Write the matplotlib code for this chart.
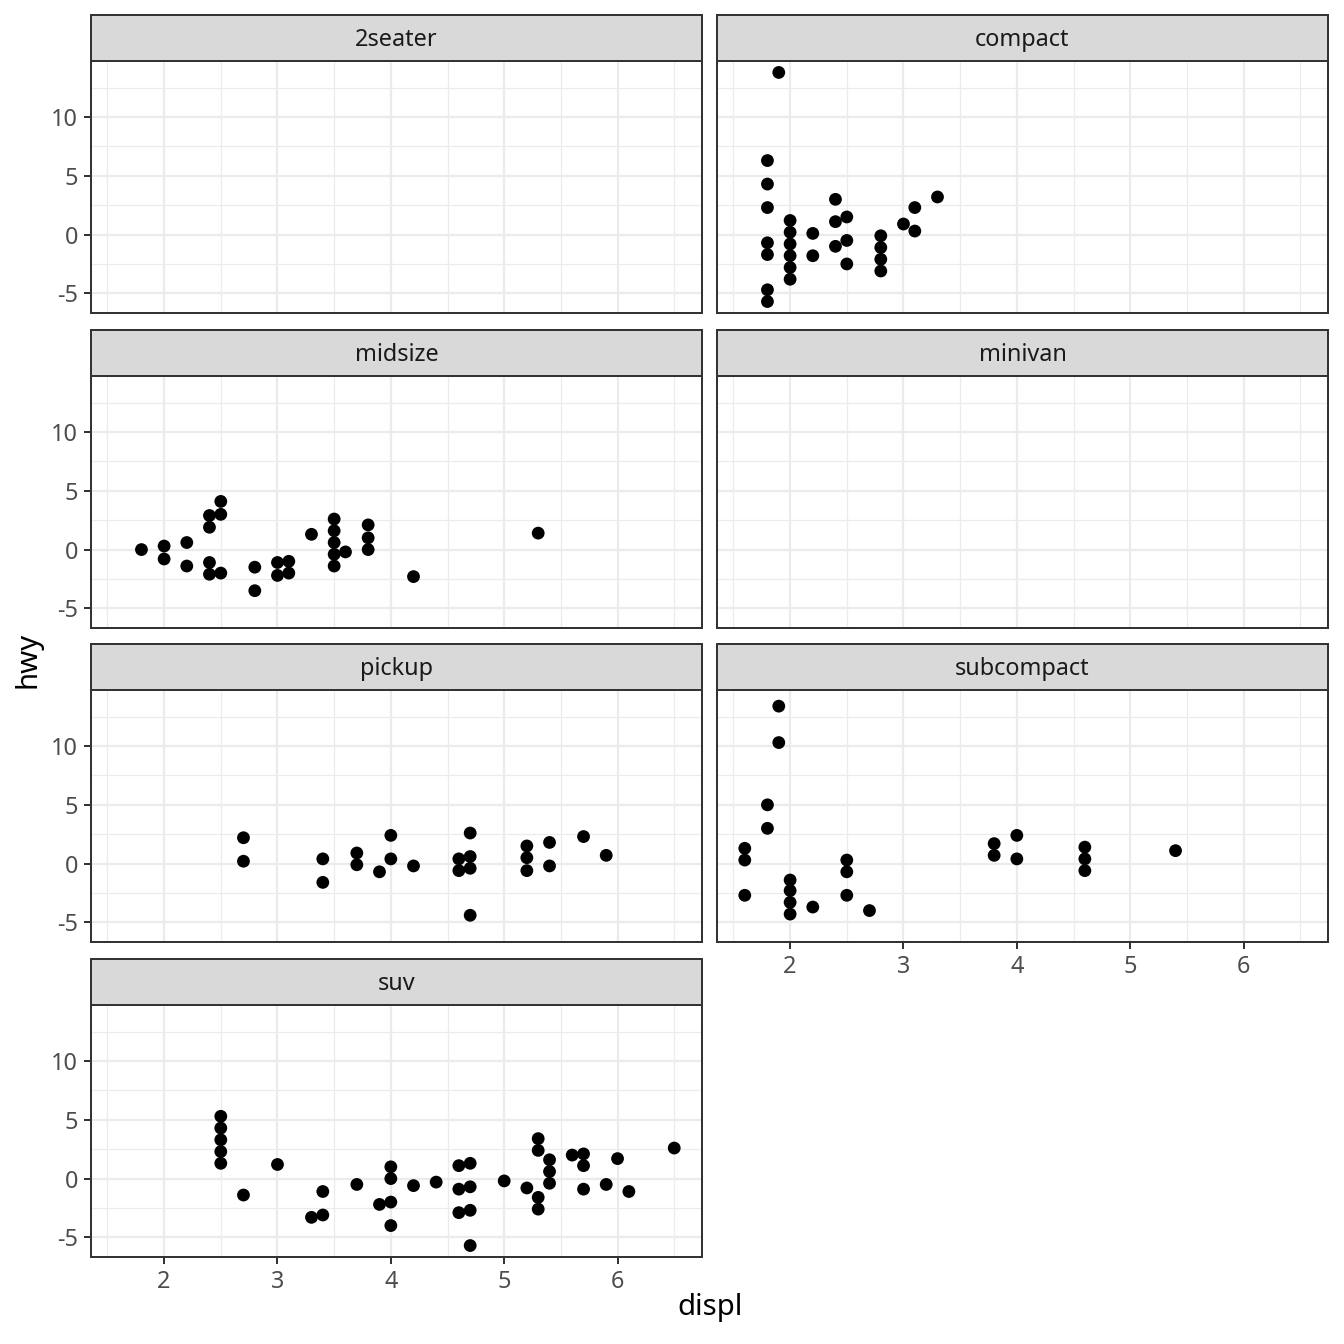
import numpy as np
import matplotlib
matplotlib.use("Agg")
import matplotlib.pyplot as plt

plt.rcParams['font.family'] = ['Noto Sans', 'DejaVu Sans']
plt.rcParams['axes.unicode_minus'] = False

# facet order (facet_wrap, 2 columns)
classes = ["2seater", "compact", "midsize", "minivan", "pickup", "subcompact", "suv"]

compact_displ = [1.9, 1.8, 1.8, 1.8, 1.8, 1.8, 1.8, 1.8, 2.0, 2.0, 2.0, 2.0, 2.0, 2.0,
                 2.2, 2.2, 2.4, 2.4, 2.4, 2.5, 2.5, 2.5, 2.8, 2.8, 2.8, 2.8, 3.0, 3.1, 3.1, 3.3]
compact_hwy = [13.8, 6.3, 4.3, 2.3, -0.7, -1.7, -4.7, -5.7, 1.2, 0.2, -0.8, -1.8, -2.8, -3.8,
               0.1, -1.8, 3.0, 1.1, -1.0, 1.5, -0.5, -2.5, -0.1, -1.1, -2.1, -3.1, 0.9, 2.3, 0.3, 3.2]

midsize_displ = [1.8, 2.0, 2.0, 2.2, 2.2, 2.4, 2.4, 2.4, 2.4, 2.5, 2.5, 2.5, 2.8, 2.8,
                 3.0, 3.0, 3.1, 3.1, 3.3, 3.5, 3.5, 3.5, 3.5, 3.5, 3.6, 3.8, 3.8, 3.8, 4.2, 5.3]
midsize_hwy = [0.0, 0.3, -0.8, 0.6, -1.4, 2.9, 1.9, -1.1, -2.1, 4.1, 3.0, -2.0, -1.5, -3.5,
               -1.1, -2.2, -1.0, -2.0, 1.3, 2.6, 1.6, 0.6, -0.4, -1.4, -0.2, 2.1, 1.0, 0.0, -2.3, 1.4]

pickup_displ = [2.7, 2.7, 3.4, 3.4, 3.7, 3.7, 3.9, 4.0, 4.0, 4.2, 4.6, 4.6, 4.7, 4.7, 4.7, 4.7,
                5.2, 5.2, 5.2, 5.4, 5.4, 5.7, 5.9]
pickup_hwy = [2.2, 0.2, 0.4, -1.6, 0.9, -0.1, -0.7, 2.4, 0.4, -0.2, 0.4, -0.6, 2.6, 0.6, -0.4, -4.4,
              1.5, 0.5, -0.6, 1.8, -0.2, 2.3, 0.7]

subcompact_displ = [1.6, 1.6, 1.6, 1.8, 1.8, 1.9, 1.9, 2.0, 2.0, 2.0, 2.0, 2.2, 2.5, 2.5, 2.5,
                    2.7, 3.8, 3.8, 4.0, 4.0, 4.6, 4.6, 4.6, 5.4]
subcompact_hwy = [1.3, 0.3, -2.7, 5.0, 3.0, 13.4, 10.3, -1.4, -2.3, -3.3, -4.3, -3.7, 0.3, -0.7, -2.7,
                  -4.0, 1.7, 0.7, 2.4, 0.4, 1.4, 0.4, -0.6, 1.1]

suv_displ = [2.5, 2.5, 2.5, 2.5, 2.5, 2.7, 3.0, 3.3, 3.4, 3.4, 3.7, 3.9, 4.0, 4.0, 4.0, 4.0,
             4.2, 4.4, 4.6, 4.6, 4.6, 4.7, 4.7, 4.7, 4.7, 5.0, 5.2, 5.3, 5.3, 5.3, 5.3,
             5.4, 5.4, 5.4, 5.6, 5.7, 5.7, 5.7, 5.9, 6.0, 6.1, 6.5]
suv_hwy = [5.3, 4.3, 3.3, 2.3, 1.3, -1.4, 1.2, -3.3, -1.1, -3.1, -0.5, -2.2, 1.0, 0.0, -2.0, -4.0,
           -0.6, -0.3, 1.1, -0.9, -2.9, 1.3, -0.7, -2.7, -5.7, -0.2, -0.8, 3.4, 2.4, -1.6, -2.6,
           1.6, 0.6, -0.4, 2.0, 2.1, 1.1, -0.9, -0.5, 1.7, -1.1, 2.6]

data = {
    "2seater": ([], []),
    "compact": (compact_displ, compact_hwy),
    "midsize": (midsize_displ, midsize_hwy),
    "minivan": ([], []),
    "pickup": (pickup_displ, pickup_hwy),
    "subcompact": (subcompact_displ, subcompact_hwy),
    "suv": (suv_displ, suv_hwy),
}

# shared scales with ggplot-like 5% expansion
all_x = np.concatenate([np.array(v[0], float) for v in data.values()])
all_y = np.concatenate([np.array(v[1], float) for v in data.values()])
xr = all_x.max() - all_x.min()
yr = all_y.max() - all_y.min()
xlim = (all_x.min() - 0.05 * xr, all_x.max() + 0.05 * xr)
ylim = (all_y.min() - 0.05 * yr, all_y.max() + 0.05 * yr)

W = H = 1344.0
fig = plt.figure(figsize=(7, 7), dpi=192, facecolor='white')

col_left = [91, 717]
col_w = 611
panel_tops = [61, 376, 690, 1005]
panel_h = 252
strip_h = 46

border = '#333333'
tick_col = '#4D4D4D'

for i, cls in enumerate(classes):
    r, c = divmod(i, 2)
    x0 = col_left[c]
    top = panel_tops[r]
    ax = fig.add_axes([x0 / W, 1 - (top + panel_h) / H, col_w / W, panel_h / H])
    sax = fig.add_axes([x0 / W, 1 - top / H, col_w / W, strip_h / H])

    ax.set_xlim(xlim)
    ax.set_ylim(ylim)
    ax.set_xticks([2, 3, 4, 5, 6])
    ax.set_xticks([1.5, 2.5, 3.5, 4.5, 5.5, 6.5], minor=True)
    ax.set_yticks([-5, 0, 5, 10])
    ax.set_yticks([-2.5, 2.5, 7.5, 12.5], minor=True)
    ax.grid(True, which='major', color='#EBEBEB', lw=0.85)
    ax.grid(True, which='minor', color='#EBEBEB', lw=0.45)
    ax.set_axisbelow(True)
    for s in ax.spines.values():
        s.set_color(border)
        s.set_linewidth(0.75)
    ax.tick_params(which='major', length=2.75, width=0.75, color=border,
                   labelsize=8.8, labelcolor=tick_col, pad=2.2)
    ax.tick_params(which='minor', length=0)

    show_x = (cls == "suv") or (cls == "subcompact")
    show_y = (c == 0)
    ax.tick_params(axis='x', bottom=show_x, labelbottom=show_x)
    ax.tick_params(axis='y', left=show_y, labelleft=show_y)

    xs, ys = data[cls]
    if len(xs):
        ax.scatter(xs, ys, s=23, color='black', edgecolors='none', zorder=3)

    sax.set_facecolor('#D9D9D9')
    sax.set_xticks([])
    sax.set_yticks([])
    for s in sax.spines.values():
        s.set_color(border)
        s.set_linewidth(0.75)
    sax.text(0.5, 0.46, cls, ha='center', va='center', fontsize=8.8,
             color='#1A1A1A', transform=sax.transAxes)

fig.text(710 / W, 1 - 1307 / H, 'displ', ha='center', va='center', fontsize=11, color='black')
fig.text(28 / W, 1 - 660 / H, 'hwy', ha='center', va='center', fontsize=11,
         color='black', rotation=90)

fig.savefig('out.png', dpi=192, facecolor='white')
